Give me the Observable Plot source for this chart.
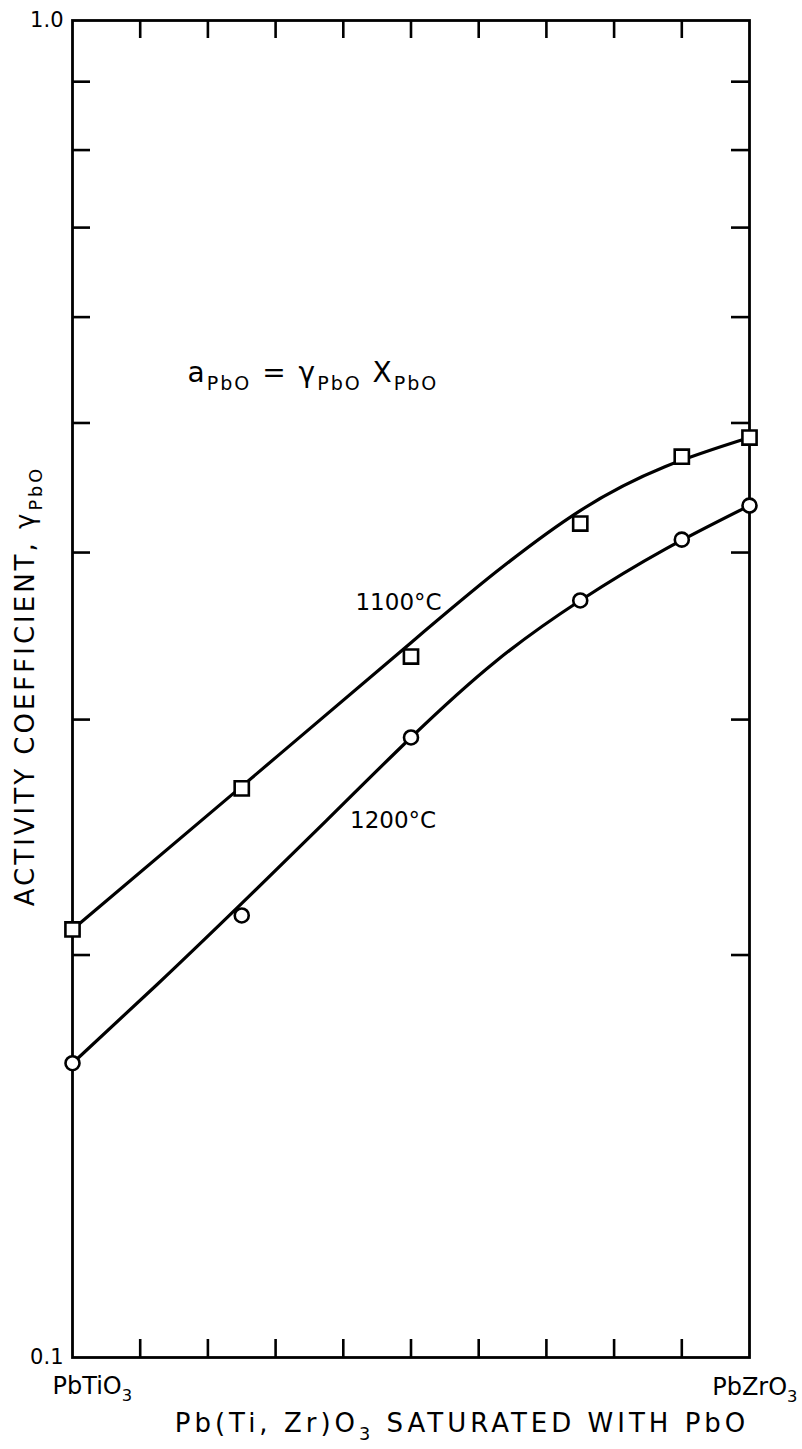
<!DOCTYPE html>
<html>
<head>
<meta charset="utf-8">
<script src="https://cdn.jsdelivr.net/npm/d3@7"></script>
<script src="https://cdn.jsdelivr.net/npm/@observablehq/plot@0.6"></script>
<style>
  html, body { margin: 0; padding: 0; background: #fff; }
  #chart svg { display: block; }
</style>
</head>
<body>
<div id="chart"></div>
<script>
// Mole fraction of PbZrO3 in Pb(Ti,Zr)O3 (0 = PbTiO3, 1 = PbZrO3)
const composition = [0, 0.25, 0.5, 0.75, 0.9, 1.0];

// Measured activity coefficient of PbO
const gamma1100 = [0.209, 0.2665, 0.3344, 0.4205, 0.4718, 0.4876];
const gamma1200 = [0.166, 0.2141, 0.2909, 0.3683, 0.409, 0.4337];

// Smoothed curves drawn through the measurements
const curveComp1100 = [0, 0.25, 0.5, 0.625, 0.75, 0.875, 1.0];
const curve1100 = [0.209, 0.2674, 0.3425, 0.3866, 0.430, 0.4637, 0.4876];
const curveComp1200 = [0, 0.125, 0.25, 0.375, 0.5, 0.625, 0.75, 0.875, 1.0];
const curve1200 = [0.166, 0.1901, 0.2186, 0.2521, 0.2909, 0.3316, 0.3683, 0.4022, 0.4337];

// Axis ticks and labels
const xTicks = [0.1, 0.2, 0.3, 0.4, 0.5, 0.6, 0.7, 0.8, 0.9];
const yTicks = [0.2, 0.3, 0.4, 0.5, 0.6, 0.7, 0.8, 0.9];
const yLabelValues = [0.1, 1.0];
const yLabelTexts = ["0.1", "1.0"];
const leftEnd = "PbTiO_{3}";
const rightEnd = "PbZrO_{3}";

const W = 802, H = 1449;
const mTop = 20, mRight = 53, mBottom = 92, mLeft = 72;
const frameW = W - mLeft - mRight;
const frameH = H - mTop - mBottom;
const tickLen = 18;
const ink = "#000";
const font = "'DejaVu Sans', sans-serif";

const pts1100 = composition.map((c, i) => ({c, g: gamma1100[i]}));
const pts1200 = composition.map((c, i) => ({c, g: gamma1200[i]}));
const line1100 = curveComp1100.map((c, i) => ({c, g: curve1100[i]}));
const line1200 = curveComp1200.map((c, i) => ({c, g: curve1200[i]}));
const yLabels = yLabelValues.map((v, i) => ({v, t: yLabelTexts[i]}));

const chart = Plot.plot({
  width: W,
  height: H,
  marginTop: mTop,
  marginRight: mRight,
  marginBottom: mBottom,
  marginLeft: mLeft,
  style: {background: "#fff", color: ink, fontFamily: font},
  x: {domain: [0, 1], axis: null},
  y: {type: "log", domain: [0.1, 1], axis: null},
  marks: [
    // inward ticks on all four sides
    Plot.tickX(xTicks, {x: d => d, insetTop: frameH - tickLen, stroke: ink, strokeWidth: 2.6}),
    Plot.tickX(xTicks, {x: d => d, insetBottom: frameH - tickLen, stroke: ink, strokeWidth: 2.6}),
    Plot.tickY(yTicks, {y: d => d, insetRight: frameW - tickLen, stroke: ink, strokeWidth: 2.6}),
    Plot.tickY(yTicks, {y: d => d, insetLeft: frameW - tickLen, stroke: ink, strokeWidth: 2.6}),
    Plot.frame({stroke: ink, strokeWidth: 2.8}),

    // smoothed curves
    Plot.line(line1100, {x: "c", y: "g", curve: "natural", stroke: ink, strokeWidth: 3.2}),
    Plot.line(line1200, {x: "c", y: "g", curve: "natural", stroke: ink, strokeWidth: 3.2}),

    // measured points
    Plot.dot(pts1100, {x: "c", y: "g", symbol: "square", r: 8, fill: "#fff", stroke: ink, strokeWidth: 2.6}),
    Plot.dot(pts1200, {x: "c", y: "g", symbol: "circle", r: 7, fill: "#fff", stroke: ink, strokeWidth: 2.6}),

    // y tick labels at the ends of the decade
    Plot.text(yLabels, {x: 0, y: "v", text: "t", dx: -9, textAnchor: "end", lineAnchor: "middle",
      fontSize: 21, fill: ink}),

    // end-member labels under the composition axis
    Plot.text([leftEnd], {x: 0, y: 0.1, text: d => d, dx: -20, dy: 29, textAnchor: "start", lineAnchor: "middle",
      fontSize: 24, fill: ink}),
    Plot.text([rightEnd], {x: 1, y: 0.1, text: d => d, dx: 48, dy: 30, textAnchor: "end", lineAnchor: "middle",
      fontSize: 24, fill: ink}),

    // curve labels and relation
    Plot.text(["1100°C"], {x: 0.418, y: 0.367, text: d => d, textAnchor: "start", lineAnchor: "middle", fontSize: 23, fill: ink}),
    Plot.text(["1200°C"], {x: 0.41, y: 0.252, text: d => d, textAnchor: "start", lineAnchor: "middle", fontSize: 23, fill: ink}),
    Plot.text(["a_{PbO} = γ_{PbO} X_{PbO}"], {x: 0.17, y: 0.5453, text: d => d, textAnchor: "start", lineAnchor: "middle",
      fontSize: 28, fill: ink}),

    // axis titles
    Plot.text(["ACTIVITY COEFFICIENT, γ_{PbO}"], {frameAnchor: "left", text: d => d, rotate: -90, dx: -47, dy: -3,
      textAnchor: "middle", lineAnchor: "middle", fontSize: 26, fill: ink}),
    Plot.text(["Pb(Ti, Zr)O_{3} SATURATED WITH PbO"], {frameAnchor: "bottom", text: d => d, dx: 51, dy: 66,
      textAnchor: "middle", lineAnchor: "middle", fontSize: 26, fill: ink})
  ]
});

document.getElementById("chart").appendChild(chart);

// Letter spacing for the wide lettering of the titles and the relation
const spacing = new Map([
  ["ACTIVITY COEFFICIENT, γ_{PbO}", 3],
  ["Pb(Ti, Zr)O_{3} SATURATED WITH PbO", 4],
  ["a_{PbO} = γ_{PbO} X_{PbO}", 2]
]);

// Turn "_{...}" markup into subscript tspans
d3.select(chart).selectAll("text").each(function () {
  const s = this.textContent;
  if (spacing.has(s)) this.setAttribute("letter-spacing", spacing.get(s));
  if (!s.includes("_{")) return;
  const fs = parseFloat(getComputedStyle(this).fontSize) || 20;
  const shift = fs * 0.3;
  const el = d3.select(this);
  el.text(null);
  let lowered = false;
  for (const part of s.split(/(_\{[^}]*\})/)) {
    if (!part) continue;
    if (part.startsWith("_{")) {
      el.append("tspan").attr("dy", lowered ? null : shift).attr("font-size", fs * 0.68).text(part.slice(2, -1));
      lowered = true;
    } else {
      el.append("tspan").attr("dy", lowered ? -shift : null).text(part);
      lowered = false;
    }
  }
});
</script>
</body>
</html>
